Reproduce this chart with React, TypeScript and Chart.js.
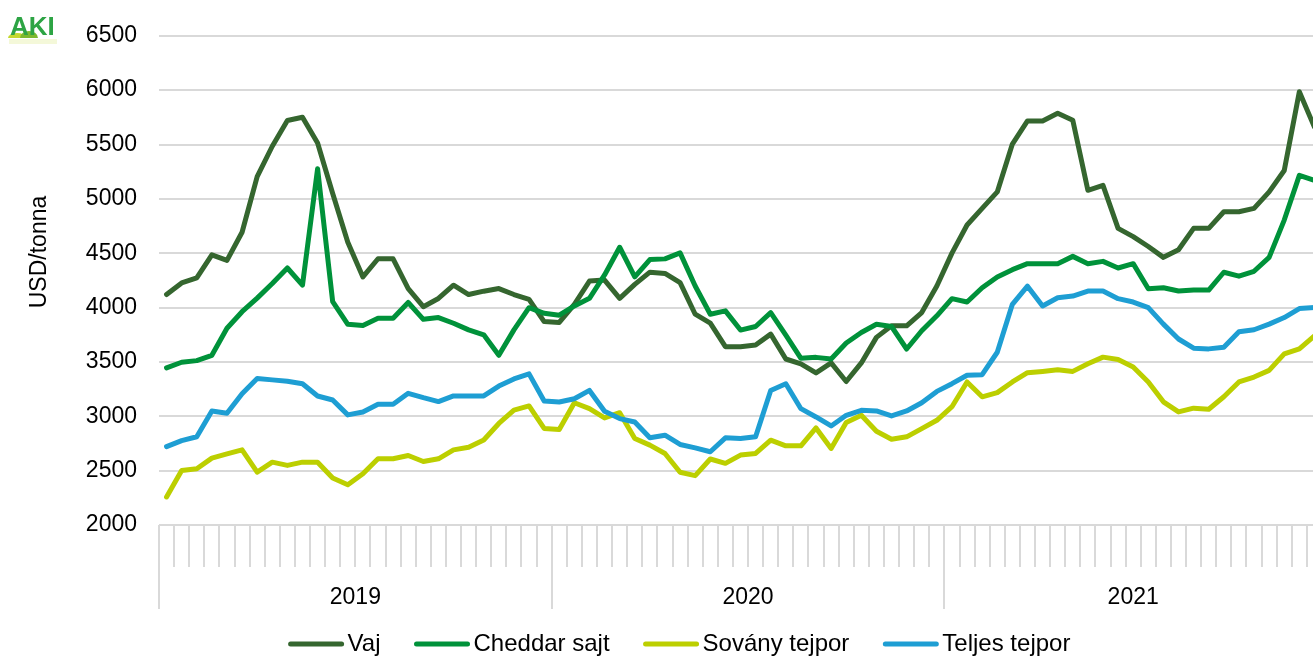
import React, { useEffect, useRef } from "react";
import { Chart, registerables } from "chart.js";

Chart.register(...registerables);

// ---- data ----
const years = ["2019", "2020", "2021"];
const periodsPerYear = [26, 26, 25];
const yMin = 2000;
const yMax = 6500;
const yStep = 500;
const yTitle = "USD/tonna";

const seriesNames = ["Vaj", "Cheddar sajt", "Sovány tejpor", "Teljes tejpor"];
const seriesColors = ["#35662F", "#00923A", "#BCCF00", "#1E9ED3"];

const vaj = [
  4120, 4227, 4273, 4485, 4434, 4693, 5204, 5484, 5721, 5751, 5514, 5050, 4600,
  4282, 4449, 4449, 4175, 4008, 4084, 4206, 4120, 4151, 4175, 4120, 4075, 3871,
  3863, 4030, 4244, 4253, 4085, 4213, 4326, 4314, 4229, 3939, 3857, 3640, 3640,
  3655, 3756, 3527, 3482, 3399, 3491, 3320, 3491, 3726, 3832, 3832, 3954, 4198,
  4501, 4760, 4912, 5064, 5504, 5717, 5717, 5787, 5723, 5079, 5124, 4729, 4653,
  4562, 4462, 4532, 4729, 4729, 4881, 4881, 4912, 5064, 5261, 5985, 5660,
];
const cheddar = [
  3445, 3497, 3512, 3561, 3810, 3962, 4087, 4221, 4364, 4206, 5277, 4054, 3846,
  3835, 3901, 3901, 4047, 3892, 3908, 3856, 3795, 3750, 3561, 3795, 3999, 3947,
  3930, 4015, 4085, 4300, 4555, 4283, 4442, 4448, 4503, 4198, 3939, 3970, 3793,
  3826, 3954, 3747, 3533, 3542, 3527, 3674, 3771, 3847, 3826, 3619, 3787, 3924,
  4082, 4051, 4182, 4282, 4349, 4404, 4404, 4404, 4471, 4404, 4425, 4364, 4404,
  4173, 4182, 4152, 4161, 4161, 4325, 4289, 4334, 4462, 4805, 5216, 5170,
];
const sovany = [
  2258, 2502, 2517, 2615, 2654, 2691, 2487, 2578, 2548, 2578, 2578, 2432, 2371,
  2472, 2609, 2609, 2639, 2584, 2609, 2691, 2715, 2782, 2934, 3056, 3095, 2888,
  2878, 3125, 3070, 2985, 3033, 2796, 2735, 2658, 2485, 2454, 2607, 2567, 2643,
  2658, 2780, 2728, 2728, 2893, 2704, 2942, 3009, 2863, 2789, 2811, 2887, 2963,
  3088, 3316, 3179, 3218, 3316, 3401, 3413, 3428, 3413, 3483, 3544, 3522, 3453,
  3316, 3133, 3040, 3075, 3065, 3180, 3316, 3361, 3422, 3574, 3620, 3740,
];
const teljes = [
  2721, 2776, 2812, 3049, 3028, 3208, 3348, 3335, 3323, 3299, 3187, 3150, 3013,
  3040, 3110, 3110, 3211, 3171, 3135, 3187, 3187, 3187, 3278, 3344, 3390, 3141,
  3131, 3161, 3238, 3046, 2979, 2948, 2802, 2826, 2741, 2710, 2674, 2802, 2796,
  2811, 3238, 3299, 3070, 2994, 2911, 3009, 3055, 3049, 3003, 3049, 3125, 3229,
  3300, 3377, 3383, 3589, 4030, 4197, 4015, 4091, 4106, 4152, 4152, 4082, 4051,
  4000, 3848, 3711, 3626, 3620, 3635, 3778, 3796, 3848, 3908, 3991, 4000,
];
const seriesValues = [vaj, cheddar, sovany, teljes];

const categories: string[] = years.flatMap((y, yi) =>
  Array.from({ length: periodsPerYear[yi] }, (_, k) => `${y}/${k + 1}`)
);

const FONT = "'Liberation Sans', Arial, sans-serif";
const GRID = "#D9D9D9";

const decorPlugin = {
  id: "decor",
  afterDraw(chart: any) {
    const { ctx, chartArea } = chart;
    const xs = chart.scales.x;
    const n = categories.length;
    const step = (chartArea.right - chartArea.left) / n;
    const bottom = chartArea.bottom;
    ctx.save();

    // x axis ticks and year separators
    ctx.strokeStyle = GRID;
    ctx.lineWidth = 2;
    const boundaries: number[] = [0];
    let acc = 0;
    periodsPerYear.forEach((p) => {
      acc += p;
      boundaries.push(acc);
    });
    for (let b = 0; b <= n; b++) {
      const x = Math.round(xs.getPixelForValue(0) - step / 2 + b * step);
      const long = boundaries.includes(b);
      ctx.beginPath();
      ctx.moveTo(x, bottom);
      ctx.lineTo(x, bottom + (long ? 84 : 42));
      ctx.stroke();
    }
    // year labels
    ctx.fillStyle = "#000";
    ctx.font = `23px ${FONT}`;
    ctx.textAlign = "center";
    ctx.textBaseline = "middle";
    years.forEach((y, yi) => {
      const a = boundaries[yi];
      const z = boundaries[yi + 1] - 1;
      const cx = (xs.getPixelForValue(a) + xs.getPixelForValue(z)) / 2;
      ctx.fillText(y, cx, bottom + 73);
    });

    // y title
    ctx.save();
    ctx.translate(40, 252);
    ctx.rotate(-Math.PI / 2);
    ctx.font = `23px ${FONT}`;
    ctx.fillText(yTitle, 0, 0);
    ctx.restore();

    // legend
    ctx.font = `24px ${FONT}`;
    const sampleW = 55;
    const gapText = 4;
    const gapItem = 34;
    const widths = seriesNames.map((s) => ctx.measureText(s).width);
    const total =
      widths.reduce((s, w) => s + sampleW + gapText + w, 0) +
      gapItem * (seriesNames.length - 1);
    let lx = 679.5 - total / 2;
    const ly = 644;
    ctx.textAlign = "left";
    ctx.lineCap = "round";
    seriesNames.forEach((name, i) => {
      ctx.strokeStyle = seriesColors[i];
      ctx.lineWidth = 5;
      ctx.beginPath();
      ctx.moveTo(lx + 2, ly);
      ctx.lineTo(lx + sampleW - 2, ly);
      ctx.stroke();
      ctx.fillStyle = "#000";
      ctx.fillText(name, lx + sampleW + gapText, ly);
      lx += sampleW + gapText + widths[i] + gapItem;
    });

    // logo
    ctx.fillStyle = "#C4D82E";
    ctx.beginPath();
    ctx.ellipse(17, 38, 9, 5, 0, Math.PI, 0);
    ctx.fill();
    ctx.fillStyle = "#7DB82F";
    ctx.beginPath();
    ctx.ellipse(29, 38, 9, 7, 0, Math.PI, 0);
    ctx.fill();
    ctx.fillStyle = "#2DA444";
    ctx.font = `bold 26px ${FONT}`;
    ctx.textAlign = "left";
    ctx.textBaseline = "alphabetic";
    ctx.fillText("AKI", 10, 35);
    ctx.fillStyle = "rgba(196,216,46,0.18)";
    ctx.fillRect(9, 39, 48, 5);

    ctx.restore();
  },
};

export default function App() {
  const ref = useRef<HTMLCanvasElement | null>(null);

  useEffect(() => {
    if (!ref.current) return;
    const chart = new Chart(ref.current, {
      type: "line",
      data: {
        labels: categories,
        datasets: seriesNames.map((name, i) => ({
          label: name,
          data: seriesValues[i],
          borderColor: seriesColors[i],
          backgroundColor: seriesColors[i],
          borderWidth: 5,
          pointRadius: 0,
          tension: 0,
          fill: false,
          borderJoinStyle: "round" as const,
          borderCapStyle: "round" as const,
          order: seriesNames.length - i,
        })),
      },
      options: {
        responsive: false,
        animation: false,
        devicePixelRatio: 1,
        layout: { padding: { top: 32, right: 18, left: 0, bottom: 0 } },
        plugins: {
          legend: { display: false },
          tooltip: { enabled: false },
          title: { display: false },
        },
        scales: {
          x: {
            type: "category",
            offset: true,
            grid: { display: false },
            border: { display: false },
            ticks: { display: false },
            afterFit: (scale: any) => {
              scale.height = 132;
            },
          },
          y: {
            min: yMin,
            max: yMax,
            border: { display: false },
            grid: { color: GRID, lineWidth: 2, drawTicks: false },
            ticks: {
              stepSize: yStep,
              padding: 22,
              color: "#000",
              font: { family: FONT, size: 23 },
              callback: (v: any) => String(v),
            },
            afterFit: (scale: any) => {
              scale.width = 159;
            },
          },
        },
      },
      plugins: [decorPlugin],
    });
    return () => chart.destroy();
  }, []);

  return (
    <div
      style={{
        position: "fixed",
        left: 0,
        top: 0,
        width: 1313,
        height: 657,
        overflow: "hidden",
        background: "#fff",
      }}
    >
      <canvas
        ref={ref}
        width={1340}
        height={657}
        style={{ display: "block", width: 1340, height: 657 }}
      />
    </div>
  );
}
